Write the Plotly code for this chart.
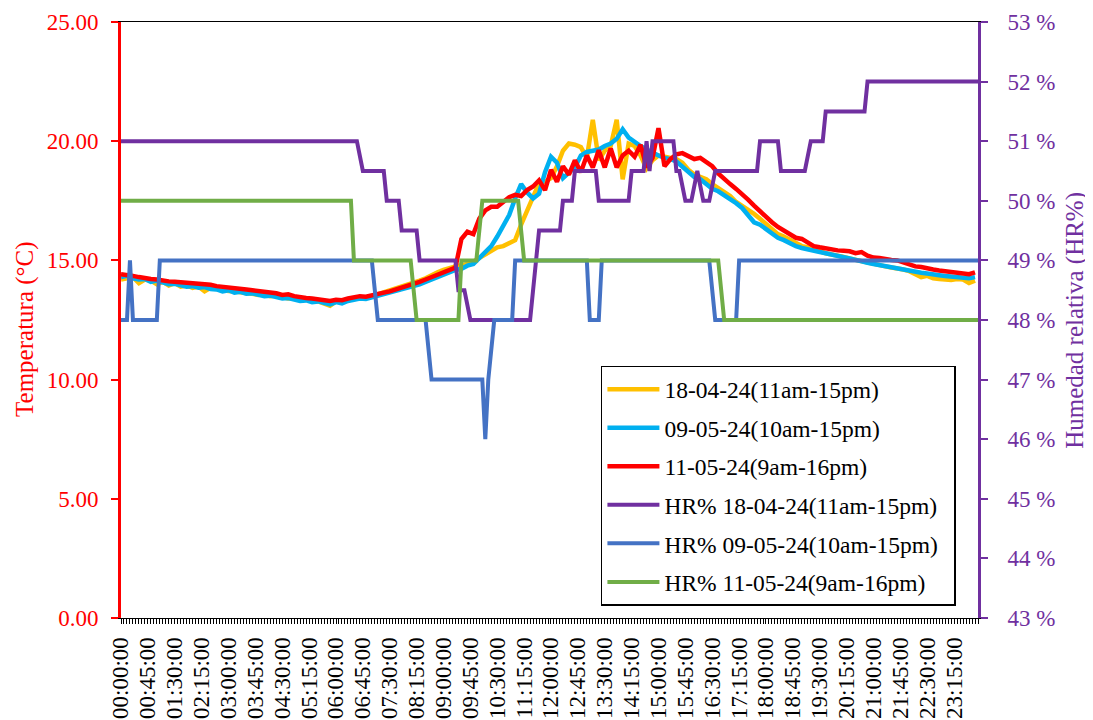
import plotly.graph_objects as go

# Categorías del eje X: una cada 5 minutos
TIMES = [f"{m // 60:02d}:{m % 60:02d}:00" for m in range(0, 1440, 5)]
TICK_LABELS = TIMES[::9]          # una etiqueta cada 45 min
TEMP_TIMES = TIMES[::2]           # temperaturas leídas cada 10 min

COLORS = {
    "t_18": "#FFC000",
    "t_09": "#00B0F0",
    "t_11": "#FF0000",
    "hr_18": "#7030A0",
    "hr_09": "#4472C4",
    "hr_11": "#70AD47",
    "left": "#FF0000",
    "right": "#7030A0",
}

# Temperatura (°C)
TEMP_18 = [
    14.20, 14.25, 14.30, 14.05, 14.20, 14.15, 14.00, 14.10, 13.95, 14.05, 13.90, 13.95,
    13.85, 13.90, 13.70, 13.85, 13.80, 13.75, 13.72, 13.70, 13.65, 13.62, 13.60, 13.55,
    13.58, 13.50, 13.52, 13.45, 13.40, 13.42, 13.35, 13.38, 13.30, 13.28, 13.20, 13.10,
    13.28, 13.25, 13.35, 13.40, 13.45, 13.42, 13.50, 13.55, 13.62, 13.70, 13.80, 13.90,
    13.98, 14.05, 14.15, 14.25, 14.40, 14.50, 14.60, 14.70, 14.75, 14.80, 14.85, 14.95,
    15.10, 15.25, 15.40, 15.55, 15.60, 15.70, 15.85, 16.50, 17.10, 17.70, 18.24, 18.30,
    18.45, 18.95, 19.60, 19.90, 19.85, 19.75, 19.30, 20.90, 19.20, 19.60, 19.80, 20.90,
    18.40, 19.90, 19.80, 19.40, 18.85, 19.20, 19.40, 19.35, 19.30, 19.25, 19.10, 18.80,
    18.60, 18.50, 18.40, 18.20, 18.05, 17.85, 17.70, 17.45, 17.30, 17.10, 16.95, 16.75,
    16.55, 16.30, 16.10, 16.00, 15.85, 15.75, 15.60, 15.55, 15.45, 15.40, 15.30, 15.25,
    15.22, 15.15, 15.08, 15.02, 14.95, 14.90, 14.85, 14.80, 14.75, 14.70, 14.68, 14.62,
    14.55, 14.45, 14.30, 14.35, 14.25, 14.22, 14.20, 14.18, 14.22, 14.20, 14.05, 14.15,
]
TEMP_09 = [
    14.30, 14.35, 14.25, 14.20, 14.22, 14.10, 14.15, 14.05, 14.00, 14.02, 13.95, 13.90,
    13.92, 13.85, 13.88, 13.80, 13.78, 13.70, 13.75, 13.65, 13.68, 13.60, 13.62, 13.55,
    13.50, 13.52, 13.45, 13.40, 13.42, 13.35, 13.30, 13.32, 13.25, 13.28, 13.22, 13.15,
    13.25, 13.20, 13.30, 13.35, 13.40, 13.38, 13.45, 13.50, 13.55, 13.62, 13.70, 13.78,
    13.85, 13.92, 14.00, 14.10, 14.20, 14.30, 14.40, 14.50, 14.60, 14.65, 14.78, 14.85,
    15.10, 15.30, 15.60, 16.00, 16.45, 16.90, 17.60, 18.20, 17.85, 17.60, 17.80, 18.70,
    19.35, 19.10, 18.45, 18.70, 18.90, 19.40, 19.55, 19.60, 19.65, 19.80, 19.90, 20.10,
    20.50, 20.15, 19.95, 19.80, 19.65, 19.50, 19.40, 19.30, 19.25, 19.15, 18.95, 18.70,
    18.50, 18.40, 18.20, 18.00, 17.90, 17.75, 17.60, 17.40, 17.20, 16.90, 16.60, 16.50,
    16.30, 16.15, 15.95, 15.85, 15.70, 15.60, 15.52, 15.45, 15.38, 15.35, 15.30, 15.25,
    15.22, 15.15, 15.08, 15.02, 14.98, 14.90, 14.85, 14.80, 14.75, 14.72, 14.68, 14.62,
    14.58, 14.52, 14.48, 14.45, 14.40, 14.38, 14.35, 14.32, 14.30, 14.28, 14.25, 14.30,
]
TEMP_11 = [
    14.42, 14.40, 14.35, 14.30, 14.25, 14.22, 14.20, 14.15, 14.12, 14.10, 14.08, 14.06,
    14.05, 14.02, 14.00, 13.98, 13.92, 13.90, 13.85, 13.84, 13.82, 13.78, 13.75, 13.72,
    13.70, 13.68, 13.62, 13.55, 13.58, 13.50, 13.45, 13.42, 13.40, 13.38, 13.35, 13.30,
    13.35, 13.33, 13.40, 13.45, 13.50, 13.48, 13.55, 13.60, 13.65, 13.70, 13.78, 13.82,
    13.90, 13.98, 14.10, 14.20, 14.30, 14.40, 14.52, 14.62, 14.70, 15.90, 16.20, 16.10,
    16.75, 17.10, 17.25, 17.25, 17.45, 17.65, 17.75, 17.70, 17.95, 18.10, 18.36, 17.95,
    18.80, 18.30, 18.95, 18.60, 19.20, 18.70, 19.40, 18.90, 19.62, 18.90, 19.70, 18.90,
    19.40, 19.60, 19.35, 19.85, 18.90, 19.30, 20.55, 18.95, 19.25, 19.45, 19.50, 19.40,
    19.25, 19.30, 19.10, 18.95, 18.65, 18.40, 18.20, 18.00, 17.80, 17.55, 17.30, 17.05,
    16.85, 16.60, 16.40, 16.25, 16.10, 15.95, 15.90, 15.75, 15.60, 15.55, 15.50, 15.45,
    15.42, 15.40, 15.38, 15.30, 15.35, 15.20, 15.12, 15.10, 15.05, 15.02, 15.00, 14.92,
    14.85, 14.75, 14.72, 14.65, 14.62, 14.58, 14.55, 14.50, 14.48, 14.45, 14.42, 14.50,
]

# Humedad relativa (%): puntos donde cambia el valor
HR_18_TIMES = [
    "00:00:00", "06:35:00", "06:45:00", "07:20:00", "07:25:00", "07:45:00", "07:50:00",
    "08:15:00", "08:20:00", "09:20:00", "09:25:00", "09:35:00", "09:45:00", "11:25:00",
    "11:40:00", "12:15:00", "12:20:00", "12:35:00", "12:40:00", "13:15:00", "13:20:00",
    "14:10:00", "14:15:00", "14:35:00", "14:40:00", "14:45:00", "14:50:00", "15:25:00",
    "15:30:00", "15:35:00", "15:45:00", "15:55:00", "16:05:00", "16:15:00", "16:25:00",
    "16:35:00", "17:45:00", "17:50:00", "18:20:00", "18:25:00", "19:05:00", "19:15:00",
    "19:35:00", "19:40:00", "20:45:00", "20:50:00", "23:55:00",
]
HR_18 = [
    51, 51, 50.5, 50.5, 50, 50, 49.5,
    49.5, 49, 49, 48.5, 48.5, 48, 48,
    49.5, 49.5, 50, 50, 50.5, 50.5, 50,
    50, 50.5, 50.5, 51, 50.5, 51, 51,
    50.5, 50.5, 50, 50, 50.5, 50, 50,
    50.5, 50.5, 51, 51, 50.5, 50.5, 51,
    51, 51.5, 51.5, 52, 52,
]
HR_09_TIMES = [
    "00:00:00", "00:10:00", "00:15:00", "00:20:00", "01:00:00", "01:05:00", "07:00:00",
    "07:10:00", "08:30:00", "08:40:00", "10:05:00", "10:10:00", "10:15:00", "10:25:00",
    "10:55:00", "11:00:00", "13:00:00", "13:05:00", "13:20:00", "13:25:00", "16:25:00",
    "16:35:00", "17:10:00", "17:15:00", "23:55:00",
]
HR_09 = [
    48, 48, 49, 48, 48, 49, 49,
    48, 48, 47, 47, 46, 47, 48,
    48, 49, 49, 48, 48, 49, 49,
    48, 48, 49, 49,
]
HR_11_TIMES = [
    "00:00:00", "06:25:00", "06:30:00", "08:05:00", "08:15:00", "09:25:00", "09:30:00",
    "09:55:00", "10:05:00", "11:05:00", "11:15:00", "16:40:00", "16:50:00", "23:55:00",
]
HR_11 = [50, 50, 49, 49, 48, 48, 49, 49, 50, 50, 49, 49, 48, 48]

FONT = "Liberation Serif, Times New Roman, serif"
pos = {t: i for i, t in enumerate(TIMES)}


def to_x(times):
    return [pos[t] for t in times]


fig = go.Figure()

temp_series = [
    ("18-04-24(11am-15pm)", TEMP_18, COLORS["t_18"]),
    ("09-05-24(10am-15pm)", TEMP_09, COLORS["t_09"]),
    ("11-05-24(9am-16pm)", TEMP_11, COLORS["t_11"]),
]
for name, vals, color in temp_series:
    fig.add_trace(go.Scatter(
        x=to_x(TEMP_TIMES[:len(vals)]), y=vals, name=name, mode="lines",
        line=dict(color=color, width=4.5), legendgroup=name,
    ))

hr_series = [
    ("HR% 18-04-24(11am-15pm)\u00a0\u00a0", HR_18_TIMES, HR_18, COLORS["hr_18"]),
    ("HR% 09-05-24(10am-15pm)", HR_09_TIMES, HR_09, COLORS["hr_09"]),
    ("HR% 11-05-24(9am-16pm)", HR_11_TIMES, HR_11, COLORS["hr_11"]),
]
for name, times, vals, color in hr_series:
    fig.add_trace(go.Scatter(
        x=to_x(times), y=vals, name=name, mode="lines", yaxis="y2",
        line=dict(color=color, width=4), legendgroup=name,
    ))

# títulos de los ejes Y como anotaciones giradas
fig.add_annotation(
    text="Temperatura (°C)", xref="paper", yref="paper", x=-0.112, y=0.485,
    textangle=-90, showarrow=False, xanchor="center", yanchor="middle",
    font=dict(family=FONT, size=25, color=COLORS["left"]),
)
fig.add_annotation(
    text="Humedad relativa (HR%)", xref="paper", yref="paper", x=1.113, y=0.5,
    textangle=-90, showarrow=False, xanchor="center", yanchor="middle",
    font=dict(family=FONT, size=25, color=COLORS["right"]),
)

fig.update_layout(
    width=1093,
    height=720,
    paper_bgcolor="white",
    plot_bgcolor="white",
    font=dict(family=FONT, size=20, color="black"),
    # la página añade 8 px de margen al div
    margin=dict(l=113, r=123, t=14, b=110, autoexpand=False),
    showlegend=True,
    legend=dict(
        x=0.56, y=0.423, xanchor="left", yanchor="top",
        bgcolor="white", bordercolor="black", borderwidth=1.5,
        font=dict(family=FONT, size=23.5, color="black"),
        traceorder="grouped", tracegroupgap=5, itemwidth=52,
    ),
    xaxis=dict(
        range=[0, len(TIMES) - 1],
        tickmode="array",
        tickvals=to_x(TICK_LABELS),
        ticktext=TICK_LABELS,
        tickangle=-90,
        tickfont=dict(family=FONT, size=23, color="black"),
        ticks="outside", ticklen=5, tickcolor="black",
        minor=dict(tickmode="linear", tick0=0, dtick=1, ticks="outside",
                   ticklen=5, tickcolor="black", tickwidth=1),
        showline=True, linecolor="black", linewidth=1, mirror=True,
        showgrid=False, zeroline=False, ticklabelstandoff=4, automargin=False,
    ),
    yaxis=dict(
        range=[0, 25], dtick=5, tickformat=".2f",
        tickfont=dict(family=FONT, size=23, color=COLORS["left"]),
        ticks="outside", ticklen=7, tickwidth=2, tickcolor=COLORS["left"],
        showline=True, linecolor=COLORS["left"], linewidth=3,
        showgrid=False, zeroline=False, ticklabelstandoff=8, automargin=False,
    ),
    yaxis2=dict(
        range=[43, 53], dtick=1, ticksuffix=" %", overlaying="y", side="right",
        tickfont=dict(family=FONT, size=23, color=COLORS["right"]),
        ticks="outside", ticklen=7, tickwidth=2, tickcolor=COLORS["right"],
        showline=True, linecolor=COLORS["right"], linewidth=3,
        showgrid=False, zeroline=False, ticklabelstandoff=15, automargin=False,
    ),
)

fig.write_html("out.html")
